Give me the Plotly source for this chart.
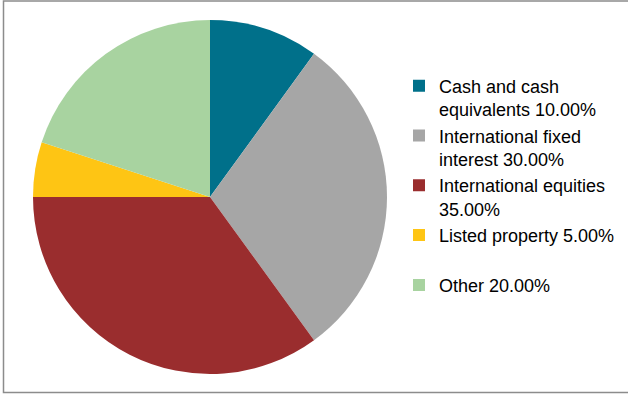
import textwrap

import plotly.graph_objects as go

# Asset allocation shares (percent)
categories = [
    "Cash and cash equivalents",
    "International fixed interest",
    "International equities",
    "Listed property",
    "Other",
]
shares = [10.0, 30.0, 35.0, 5.0, 20.0]
colors = ["#00708A", "#A6A6A6", "#9A2D2E", "#FEC514", "#A8D3A0"]


def legend_label(name, value):
    lines = textwrap.wrap(f"{name} {value:.2f}%", width=22)
    # pad single-line entries so every legend row has the same height
    if len(lines) < 2:
        lines.append(" ")
    return "<br>".join(lines)


labels = [legend_label(c, v) for c, v in zip(categories, shares)]

W, H = 628, 394
cx, cy, r = 210, 197, 177

fig = go.Figure(
    go.Pie(
        labels=labels,
        values=shares,
        sort=False,
        direction="clockwise",
        rotation=0,
        textinfo="none",
        hoverinfo="label+percent",
        marker=dict(colors=colors, line=dict(width=0)),
        domain=dict(
            x=[(cx - r) / W, (cx + r) / W],
            y=[(H - cy - r) / H, (H - cy + r) / H],
        ),
    )
)

fig.update_layout(
    width=W,
    height=H,
    margin=dict(l=0, r=0, t=0, b=0),
    paper_bgcolor="white",
    font=dict(family="Liberation Sans, Arial, sans-serif", size=18, color="#000000"),
    showlegend=True,
    legend=dict(
        x=399 / W,
        xanchor="left",
        y=1 - 67.5 / H,
        yanchor="top",
        valign="top",
        traceorder="normal",
        bgcolor="rgba(0,0,0,0)",
        font=dict(size=18),
    ),
    shapes=[
        dict(
            type="rect",
            xref="paper",
            yref="paper",
            x0=3.5 / W,
            x1=1.05,
            y0=1 - 392.5 / H,
            y1=1 - 1 / H,
            line=dict(color="#8C8C8C", width=1.5),
            fillcolor="rgba(0,0,0,0)",
            layer="below",
        )
    ],
)

fig.write_html("out.html")
